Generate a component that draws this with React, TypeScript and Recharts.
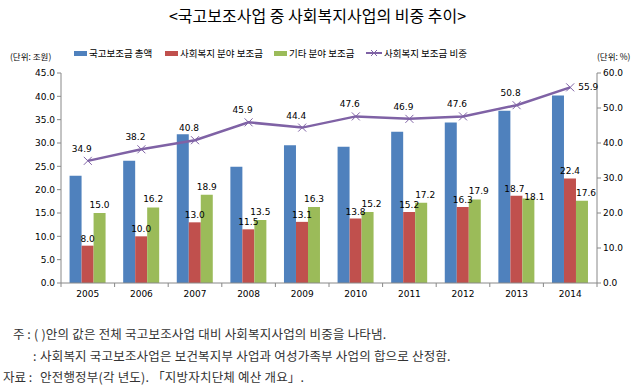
import React from "react";
import {
  ComposedChart,
  Bar,
  Line,
  XAxis,
  YAxis,
  LabelList,
} from "recharts";

const years = ["2005", "2006", "2007", "2008", "2009", "2010", "2011", "2012", "2013", "2014"];
const totalSubsidy = [23.0, 26.2, 31.9, 24.9, 29.5, 29.2, 32.4, 34.4, 36.9, 40.2];
const welfareSubsidy = [8.0, 10.0, 13.0, 11.5, 13.1, 13.8, 15.2, 16.3, 18.7, 22.4];
const otherSubsidy = [15.0, 16.2, 18.9, 13.5, 16.3, 15.2, 17.2, 17.9, 18.1, 17.6];
const welfareShare = [34.9, 38.2, 40.8, 45.9, 44.4, 47.6, 46.9, 47.6, 50.8, 55.9];

const leftTicks = [0, 5, 10, 15, 20, 25, 30, 35, 40, 45];
const rightTicks = [0, 10, 20, 30, 40, 50, 60];

const data = years.map((year, i) => ({
  year,
  total: totalSubsidy[i],
  welfare: welfareSubsidy[i],
  other: otherSubsidy[i],
  share: welfareShare[i],
}));

const BLUE = "#4f81bd";
const RED = "#c0504d";
const GREEN = "#9bbb59";
const PURPLE = "#7f62a5";
const AXIS = "#888";
const FONT = "'DejaVu Sans', 'Noto Sans CJK KR', sans-serif";
const KFONT = "'Noto Sans CJK KR', sans-serif";

// plot area: 61..597 px wide
const BAND = (635 - 61 - 38) / years.length;

const fmt = (v: number) => Number(v).toFixed(1);

const CrossDot = (props: any) => {
  const { cx, cy } = props;
  if (cx == null || cy == null) return null;
  const s = 4;
  return (
    <g stroke={PURPLE} strokeWidth={1}>
      <line x1={cx - s} y1={cy - s} x2={cx + s} y2={cy + s} />
      <line x1={cx - s} y1={cy + s} x2={cx + s} y2={cy - s} />
    </g>
  );
};

const YearTick = (props: any) => {
  const { x, y, payload, index } = props;
  return (
    <g>
      {index === 0 && (
        <line x1={x - BAND / 2} y1={y - 8} x2={x - BAND / 2} y2={y - 4} stroke={AXIS} />
      )}
      <line x1={x + BAND / 2} y1={y - 8} x2={x + BAND / 2} y2={y - 4} stroke={AXIS} />
      <text x={x} y={y + 6} textAnchor="middle" fontSize={9} fontFamily={FONT} fill="#000">
        {payload.value}
      </text>
    </g>
  );
};

const ShareLabel = (props: any) => {
  const { x, y, value, index } = props;
  const last = index === years.length - 1;
  return (
    <text
      x={last ? x + 8 : x - 6}
      y={last ? y + 3 : y - 9}
      textAnchor={last ? "start" : "middle"}
      fontSize={9}
      fontFamily={FONT}
      fill="#000"
    >
      {fmt(value)}
    </text>
  );
};

const OtherLabel = (props: any) => {
  const { x, y, width, value, index } = props;
  // 2013 label sits lower and to the right so it clears the red label
  const crowded = index === 8;
  return (
    <text
      x={x + width / 2 + (crowded ? 6 : index >= 5 ? 4 : 0)}
      y={crowded ? y + 1 : y - 5}
      textAnchor="middle"
      fontSize={9}
      fontFamily={FONT}
      fill="#000"
    >
      {fmt(value)}
    </text>
  );
};

const WelfareLabel = (props: any) => {
  const { x, y, width, value, index } = props;
  return (
    <text
      x={x + width / 2 - (index === 8 ? 2 : 0)}
      y={y - 4}
      textAnchor="middle"
      fontSize={9}
      fontFamily={FONT}
      fill="#000"
    >
      {fmt(value)}
    </text>
  );
};

const legendItems = [
  { label: "국고보조금 총액", color: BLUE, x: 74 },
  { label: "사회복지 분야 보조금", color: RED, x: 165 },
  { label: "기타 분야 보조금", color: GREEN, x: 274 },
  { label: "사회복지 보조금 비중", color: PURPLE, x: 366, line: true },
];

const notes = [
  { prefix: "주 :", prefixX: 13, text: "( )안의 값은 전체 국고보조사업 대비 사회복지사업의 비중을 나타냄.", x: 34, width: 362 },
  { prefix: ":", prefixX: 33, text: "사회복지 국고보조사업은 보건복지부 사업과 여성가족부 사업의 합으로 산정함.", x: 40, width: 407 },
  { prefix: "자료 :", prefixX: 3, text: "안전행정부(각 년도). 「지방자치단체 예산 개요」.", x: 40, width: 247 },
];

export default function App() {
  return (
    <div
      style={{
        position: "fixed",
        left: 0,
        top: 0,
        width: 635,
        height: 387,
        background: "#fff",
        fontFamily: KFONT,
      }}
    >
      <div
        style={{
          position: "absolute",
          top: 3,
          left: 0,
          width: 635,
          textAlign: "center",
          fontSize: 16,
          color: "#000",
        }}
      >
        &lt;국고보조사업 중 사회복지사업의 비중 추이&gt;
      </div>

      <div style={{ position: "absolute", left: 10, top: 50, fontSize: 8.5, color: "#000" }}>
        (단위: 조원)
      </div>
      <div style={{ position: "absolute", left: 597, top: 50, fontSize: 8.5, color: "#000" }}>
        (단위: %)
      </div>

      {legendItems.map((item) => (
        <div
          key={item.label}
          style={{
            position: "absolute",
            left: item.x,
            top: 46,
            display: "flex",
            alignItems: "center",
            fontSize: 9.5,
            color: "#000",
            whiteSpace: "nowrap",
          }}
        >
          {item.line ? (
            <svg width={16} height={8} style={{ marginRight: 2 }}>
              <line x1={0} y1={4} x2={16} y2={4} stroke={item.color} strokeWidth={2} />
              <line x1={5} y1={1} x2={11} y2={7} stroke={item.color} strokeWidth={1} />
              <line x1={5} y1={7} x2={11} y2={1} stroke={item.color} strokeWidth={1} />
            </svg>
          ) : (
            <div style={{ width: 13, height: 5, background: item.color, marginRight: 2 }} />
          )}
          {item.label}
        </div>
      ))}

      <div style={{ position: "absolute", left: 0, top: 0 }}>
        <ComposedChart
          width={635}
          height={310}
          data={data}
          margin={{ top: 73, right: 0, bottom: 7, left: 0 }}
          barCategoryGap="16%"
          barGap={0}
        >
          <XAxis
            dataKey="year"
            height={20}
            tick={<YearTick />}
            tickSize={6}
            tickMargin={2}
            tickLine={false}
            axisLine={{ stroke: AXIS }}
            interval={0}
          />
          <YAxis
            yAxisId="left"
            width={61}
            domain={[0, 45]}
            ticks={leftTicks}
            tickFormatter={fmt}
            tick={{ fontSize: 9, fill: "#000", fontFamily: FONT }}
            tickSize={4}
            tickLine={{ stroke: AXIS }}
            axisLine={{ stroke: AXIS }}
          />
          <YAxis
            yAxisId="right"
            orientation="right"
            width={38}
            domain={[0, 60]}
            ticks={rightTicks}
            tickFormatter={fmt}
            tick={{ fontSize: 9, fill: "#000", fontFamily: FONT }}
            tickSize={4}
            tickLine={{ stroke: AXIS }}
            axisLine={{ stroke: AXIS }}
          />
          <Bar yAxisId="left" dataKey="total" fill={BLUE} isAnimationActive={false} />
          <Bar yAxisId="left" dataKey="welfare" fill={RED} isAnimationActive={false}>
            <LabelList dataKey="welfare" content={<WelfareLabel />} />
          </Bar>
          <Bar yAxisId="left" dataKey="other" fill={GREEN} isAnimationActive={false}>
            <LabelList dataKey="other" content={<OtherLabel />} />
          </Bar>
          <Line
            yAxisId="right"
            dataKey="share"
            stroke={PURPLE}
            strokeWidth={2.5}
            type="linear"
            dot={<CrossDot />}
            activeDot={false}
            isAnimationActive={false}
          >
            <LabelList dataKey="share" content={<ShareLabel />} />
          </Line>
        </ComposedChart>
      </div>

      {notes.map((n, i) => (
        <div
          key={i}
          style={{
            position: "absolute",
            top: 324 + i * 21.5,
            left: 0,
            width: 635,
            height: 18,
            fontSize: 12.5,
            color: "#333",
            whiteSpace: "nowrap",
          }}
        >
          <span style={{ position: "absolute", left: n.prefixX }}>{n.prefix}</span>
          <span style={{ position: "absolute", left: n.x, letterSpacing: 0.2 }}>{n.text}</span>
        </div>
      ))}
    </div>
  );
}
